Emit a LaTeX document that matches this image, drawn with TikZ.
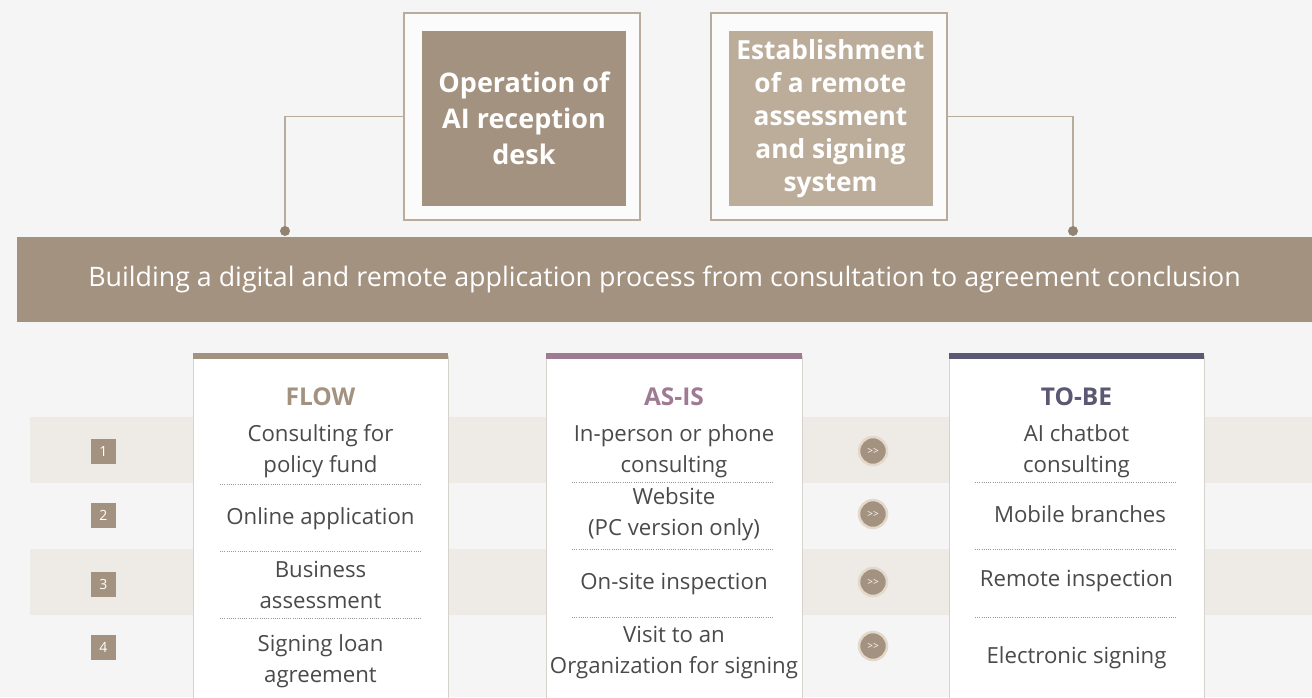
\documentclass[tikz,border=0pt]{standalone}
\usepackage{fontspec}
\setmainfont{Open Sans}
\definecolor{bg}{HTML}{F5F5F5}
\definecolor{stripe}{HTML}{EEEAE5}
\definecolor{brown}{HTML}{A39280}
\definecolor{lightbrown}{HTML}{BBAD99}
\definecolor{frame}{HTML}{B9AC9D}
\definecolor{mauve}{HTML}{9E7A93}
\definecolor{slate}{HTML}{5A5872}
\definecolor{txt}{HTML}{4A4A4A}
\definecolor{ring}{HTML}{E4D8CA}
\definecolor{colborder}{HTML}{D6D2CC}
\begin{document}
\begin{tikzpicture}[x=1pt,y=-1pt,
  outerbox/.style={draw=frame,line width=1.3pt,fill=white!60!bg,minimum width=236pt,minimum height=207pt,inner sep=0pt},
  innerbox/.style={fill=#1,minimum width=204pt,minimum height=175pt,inner sep=0pt,text=white,align=center,font=\fontsize{27}{36}\bfseries\selectfont},
  conn/.style={draw=frame,line width=1.3pt},
  dotc/.style={circle,fill=brown!90!black,inner sep=0pt,minimum size=10pt},
  banner/.style={fill=brown,minimum width=1295pt,minimum height=85pt,inner sep=0pt,text=white,font=\fontsize{26.8}{30}\selectfont},
  numbox/.style={fill=brown,minimum width=25pt,minimum height=25pt,inner sep=0pt,text=white,font=\fontsize{14}{14}\selectfont},
  arrowc/.style={circle,fill=brown,draw=ring,line width=2.5pt,minimum size=28pt,inner sep=0pt,text=white,font=\fontsize{10}{10}\selectfont},
  colhead/.style={font=\fontsize{24.5}{26}\bfseries\selectfont,text=#1},
  item/.style={align=center,text=txt,font=\fontsize{22.2}{31}\selectfont,inner sep=0pt},
  dotline/.style={draw=gray!80,line width=0.9pt,dash pattern=on 0.9pt off 1.3pt},
]
\fill[bg] (0,0) rectangle (1312,697);
\useasboundingbox (0,0) rectangle (1312,697);
\clip (0,0) rectangle (1312,697);

% stripes
\fill[stripe] (30,417) rectangle (1312,483);
\fill[stripe] (30,549) rectangle (1312,615);

% top boxes
\node[outerbox] (o1) at (522,116.5) {};
\node[innerbox=brown] (i1) at (524,118) {Operation of\\AI reception\\desk};
\node[outerbox] (o2) at (829,116.5) {};
\node[innerbox=lightbrown,font=\fontsize{26.3}{33}\bfseries\selectfont] (i2) at (830.5,118.5) {Establishment\\of a remote\\assessment\\and signing\\system};

% banner
\node[banner] (b) at (664.5,279.5) {Building a digital and remote application process from consultation to agreement conclusion};

% connectors
\coordinate (d1) at (285,231);
\coordinate (d2) at (1073,231);
\draw[conn] (o1.west) -| (d1);
\draw[conn] (o2.east) -| (d2);
\node[dotc] (c1) at (d1) {};
\node[dotc] (c2) at (d2) {};

% columns
\foreach \xa/\xb/\col in {193/448/brown, 546/802/mauve, 949/1204/slate}{
  \filldraw[fill=white,draw=colborder,line width=1pt] (\xa,356) rectangle (\xb,710);
  \fill[\col] (\xa,353) rectangle (\xb,359);
}

% headers
\node[colhead=brown] (hf) at (320.5,397) {FLOW};
\node[colhead=mauve] (ha) at (674,397) {AS-IS};
\node[colhead=slate] (ht) at (1076.5,397) {TO-BE};

% dotted separators
\foreach \y in {484,551,618}{\draw[dotline] (220,\y) -- (421,\y);}
\foreach \y in {482,549,617}{\draw[dotline] (572,\y) -- (773,\y);}
\foreach \y in {482,549,617}{\draw[dotline] (975,\y) -- (1177,\y);}

% number boxes
\node[numbox] (n1) at (103.5,451.5) {1};
\node[numbox] (n2) at (103.5,515.5) {2};
\node[numbox] (n3) at (103.5,584) {3};
\node[numbox] (n4) at (103.5,647) {4};

% flow items
\node[item] (f1) at (320.5,451) {Consulting for\\policy fund};
\node[item] (f2) at (320.5,519) {Online application};
\node[item] (f3) at (320.5,585) {Business\\assessment};
\node[item] (f4) at (320.5,661) {Signing loan\\agreement};

% as-is items
\node[item] (a1) at (674,451) {In-person or phone\\consulting};
\node[item] (a2) at (674,514) {Website\\(PC version only)};
\node[item] (a3) at (674,584) {On-site inspection};
\node[item] (a4) at (674,653) {Visit to an\\Organization for signing};

% to-be items
\node[item] (t1) at (1076.5,451) {AI chatbot\\consulting};
\node[item] (t2) at (1080,514) {Mobile branches};
\node[item] (t3) at (1076.5,581) {Remote inspection};
\node[item] (t4) at (1076.5,658) {Electronic signing};

% arrow circles
\node[arrowc] (g1) at (873,451) {{>}{>}};
\node[arrowc] (g2) at (873,514) {{>}{>}};
\node[arrowc] (g3) at (873,582) {{>}{>}};
\node[arrowc] (g4) at (873,646) {{>}{>}};
\end{tikzpicture}
\end{document}
